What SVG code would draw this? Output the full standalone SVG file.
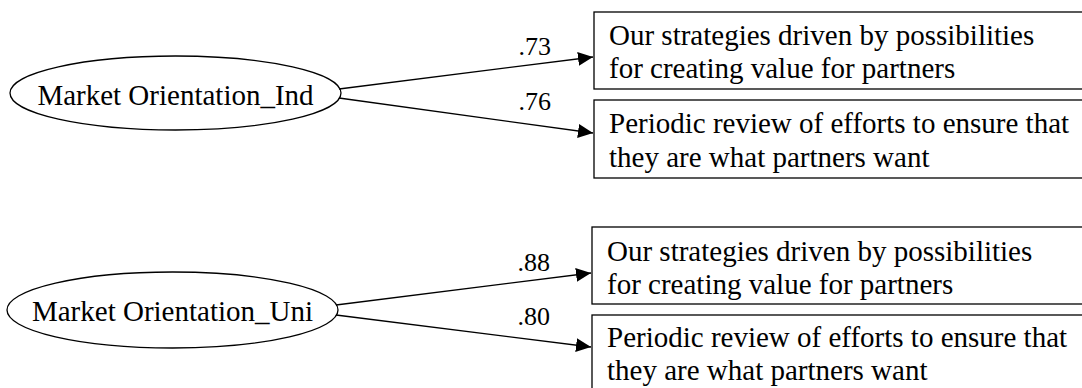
<svg xmlns="http://www.w3.org/2000/svg" width="1082" height="388" viewBox="0 0 1082 388">
  <style>
    .bg { fill: #ffffff; }
    .latent { fill: #ffffff; stroke: #000000; stroke-width: 1.3; }
    .item { fill: #ffffff; stroke: #000000; stroke-width: 1.3; }
    .lbl { font-family: "Liberation Serif", "Times New Roman", serif; font-size: 29px; fill: #000000; }
    .coef { font-family: "Liberation Serif", "Times New Roman", serif; font-size: 26px; fill: #000000; }
    .edge { fill: none; stroke: #000000; stroke-width: 1.3; }
  </style>
  <defs>
    <marker id="arrow" markerUnits="userSpaceOnUse" markerWidth="15" markerHeight="14" refX="15" refY="7" orient="auto">
      <path d="M0,0 L15,7 L0,14 Z" fill="#000000"/>
    </marker>
  </defs>
  <rect class="bg" x="0" y="0" width="1082" height="388"/>

  <!-- Upper measurement model -->
  <g id="mo-ind">
    <ellipse class="latent" cx="175.5" cy="93" rx="165.5" ry="37"/>
    <text class="lbl" x="175.5" y="105" text-anchor="middle">Market Orientation_Ind</text>
  </g>
  <g id="ind-item1">
    <rect class="item" x="594" y="12" width="500" height="77"/>
    <text class="lbl" x="609" y="45">Our strategies driven by possibilities</text>
    <text class="lbl" x="609" y="78">for creating value for partners</text>
  </g>
  <g id="ind-item2">
    <rect class="item" x="594" y="100" width="500" height="78"/>
    <text class="lbl" x="609" y="133">Periodic review of efforts to ensure that</text>
    <text class="lbl" x="609" y="167">they are what partners want</text>
  </g>

  <!-- Lower measurement model -->
  <g id="mo-uni">
    <ellipse class="latent" cx="172.5" cy="310" rx="165.5" ry="38"/>
    <text class="lbl" x="172.5" y="321" text-anchor="middle">Market Orientation_Uni</text>
  </g>
  <g id="uni-item1">
    <rect class="item" x="592" y="227" width="500" height="77"/>
    <text class="lbl" x="607" y="261">Our strategies driven by possibilities</text>
    <text class="lbl" x="607" y="294">for creating value for partners</text>
  </g>
  <g id="uni-item2">
    <rect class="item" x="592" y="315" width="500" height="90"/>
    <text class="lbl" x="607" y="347">Periodic review of efforts to ensure that</text>
    <text class="lbl" x="607" y="380">they are what partners want</text>
  </g>

  <!-- Loadings -->
  <g id="connectors">
    <path class="edge" d="M339,89 L593,57" marker-end="url(#arrow)"/>
    <path class="edge" d="M339,98 L593,133" marker-end="url(#arrow)"/>
    <path class="edge" d="M336,305 L591,273" marker-end="url(#arrow)"/>
    <path class="edge" d="M336,315 L591,347" marker-end="url(#arrow)"/>
    <text class="coef" x="551" y="55" text-anchor="end">.73</text>
    <text class="coef" x="551" y="110" text-anchor="end">.76</text>
    <text class="coef" x="550" y="271" text-anchor="end">.88</text>
    <text class="coef" x="550" y="325" text-anchor="end">.80</text>
  </g>
</svg>
